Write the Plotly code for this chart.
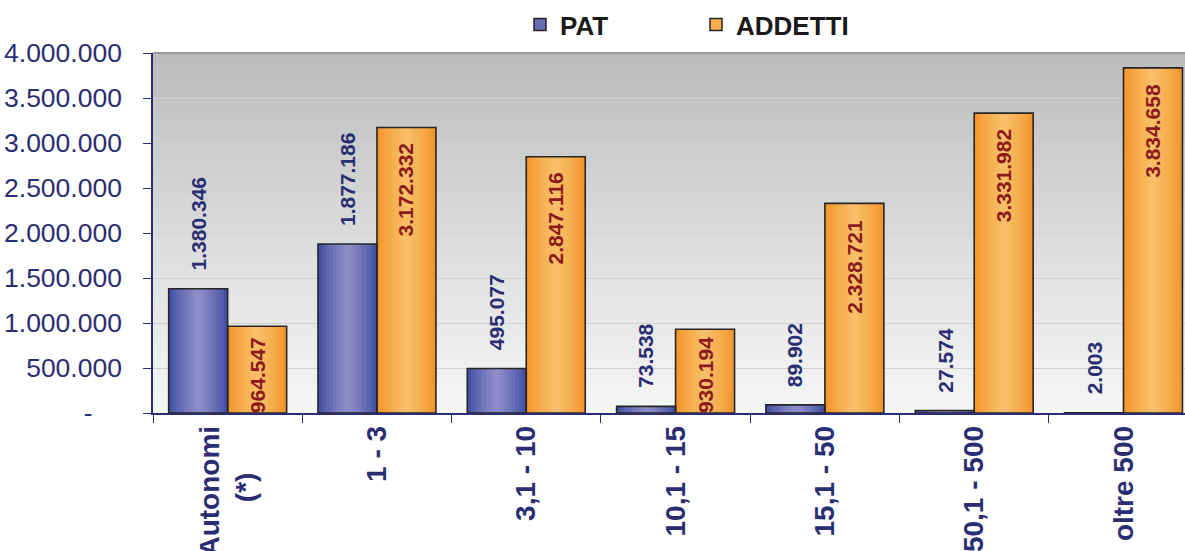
import plotly.graph_objects as go

# Dati
categorie = ["Autonomi (*)", "1 - 3", "3,1 - 10", "10,1 - 15", "15,1 - 50", "50,1 - 500", "oltre 500"]
etichette_x = ["Autonomi<br>(*)" + "\u00a0" * 6, "1 - 3", "3,1 - 10", "10,1 - 15",
               "15,1 - 50", "50,1 - 500", "oltre 500"]
pat = [1380346, 1877186, 495077, 73538, 89902, 27574, 2003]
addetti = [964547, 3172332, 2847116, 930194, 2328721, 3331982, 3834658]
tick_y = [0, 500000, 1000000, 1500000, 2000000, 2500000, 3000000, 3500000, 4000000]

FONT = "Liberation Sans, Arial, sans-serif"
NAVY = "#2b2d72"
DARKRED = "#8b1a1a"


def fmt(v):
    return f"{v:,}".replace(",", ".")


def mix(c1, c2, t):
    return "rgb(%d,%d,%d)" % tuple(round(a + (b - a) * t) for a, b in zip(c1, c2))


BLUE_EDGE, BLUE_MID = (58, 74, 158), (146, 144, 202)
ORANGE_EDGE, ORANGE_MID = (242, 146, 38), (249, 192, 106)

BW = 0.395      # larghezza di una barra (unità di categoria)
K = 16          # fasce per la sfumatura orizzontale

fig = go.Figure()


def gradient_bars(values, offset, edge, mid):
    # fasce sovrapposte: ognuna va dalla propria posizione al bordo destro
    for j in range(K):
        t = (j + 0.5) / K
        s = 1 - abs(2 * t - 1)
        s = s ** 0.8
        fig.add_trace(go.Bar(
            x=categorie, y=values,
            offset=offset + j * BW / K, width=BW - j * BW / K,
            marker=dict(color=mix(edge, mid, s), line=dict(width=0)),
            showlegend=False, hoverinfo="skip",
        ))


gradient_bars(pat, -BW, BLUE_EDGE, BLUE_MID)
gradient_bars(addetti, 0.0, ORANGE_EDGE, ORANGE_MID)

# contorni delle barre
for vals, off in ((pat, -BW), (addetti, 0.0)):
    fig.add_trace(go.Bar(
        x=categorie, y=vals, offset=off, width=BW,
        marker=dict(color="rgba(0,0,0,0)", line=dict(color="#262626", width=1.6)),
        showlegend=False, hoverinfo="skip",
    ))

# voci di legenda
for name, col in (("PAT", mix(BLUE_EDGE, BLUE_MID, 0.5)), ("ADDETTI", mix(ORANGE_EDGE, ORANGE_MID, 0.6))):
    fig.add_trace(go.Bar(
        x=[None], y=[None], name=name,
        marker=dict(color=col, line=dict(color="#262626", width=1.5)),
    ))

PX_PER_CAT = 1032 / 6.912
PX_PER_UNIT = 360 / 4000000
shift = BW / 2 * PX_PER_CAT

annotations = []
for c, v in zip(categorie, pat):
    annotations.append(dict(
        x=c, y=v, xref="x", yref="y", xshift=-shift, yshift=16,
        text=fmt(v), textangle=-90, showarrow=False,
        xanchor="center", yanchor="bottom",
        font=dict(family=FONT, size=21, color=NAVY, weight="bold"),
    ))
for c, v in zip(categorie, addetti):
    txt = fmt(v)
    text_len = 11.3 * len(txt)
    if v * PX_PER_UNIT > text_len + 16:
        pos = dict(y=v, yanchor="top", yshift=-14)
    else:
        pos = dict(y=0, yanchor="bottom", yshift=-2)
    annotations.append(dict(
        x=c, xref="x", yref="y", xshift=shift,
        text=txt, textangle=-90, showarrow=False, xanchor="center",
        font=dict(family=FONT, size=21, color=DARKRED, weight="bold"),
        **pos,
    ))

# sfondo sfumato dell'area del grafico
shapes = []
N = 60
top, bottom = (188, 188, 188), (244, 245, 245)
for i in range(N):
    t = i / (N - 1)
    shapes.append(dict(
        type="rect", xref="paper", yref="paper",
        x0=0, x1=1, y0=i / N, y1=(i + 1) / N + 0.002,
        fillcolor=mix(bottom, top, t ** 1.1), line=dict(width=0), layer="below",
    ))
shapes.append(dict(type="line", xref="paper", yref="paper", x0=0, x1=1, y0=1, y1=1,
                   line=dict(color="#8c8c8c", width=1.5)))

fig.update_layout(
    width=1185, height=551,
    margin=dict(l=153, r=0, t=53, b=138, pad=0, autoexpand=False),
    paper_bgcolor="white", plot_bgcolor="rgba(0,0,0,0)",
    barmode="overlay",
    font=dict(family=FONT),
    shapes=shapes,
    annotations=annotations,
    legend=dict(
        orientation="h", x=(520 - 153) / 1032, xanchor="left",
        yref="container", y=1 - 1 / 551, yanchor="top",
        font=dict(family=FONT, size=26, color="#1a1a1a", weight="bold"),
        entrywidth=131, bgcolor="rgba(0,0,0,0)",
    ),
    xaxis=dict(
        range=[-0.5, 6.412], tickvals=categorie, ticktext=etichette_x,
        tickangle=-90, tickson="boundaries", ticks="outside", ticklen=8,
        tickcolor=NAVY, showline=True, linecolor=NAVY, linewidth=1.5,
        showgrid=False, tickfont=dict(family=FONT, size=28, color=NAVY, weight="bold"),
    ),
    yaxis=dict(
        range=[0, 4000000], tickvals=tick_y,
        ticktext=[fmt(v) if v else "-" + "\u00a0" * 4 for v in tick_y],
        ticks="outside", ticklen=8, tickcolor=NAVY,
        showline=True, linecolor=NAVY, linewidth=1.5,
        showgrid=True, gridcolor="#d0d0d0", gridwidth=1, zeroline=False,
        tickfont=dict(family=FONT, size=26.5, color=NAVY),
        ticklabelstandoff=16,
    ),
)

fig.write_html("out.html")
